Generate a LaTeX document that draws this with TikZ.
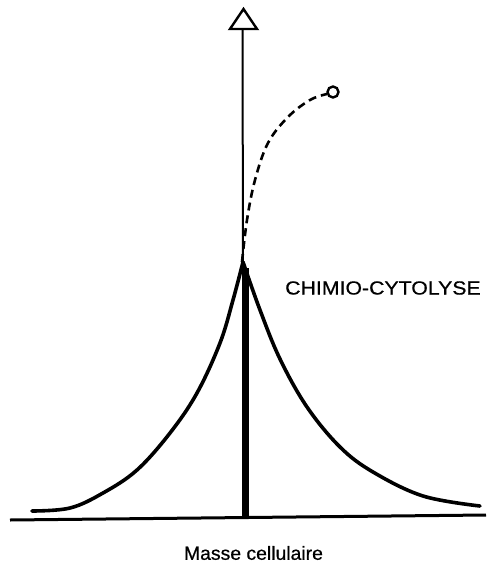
\documentclass[tikz,border=0pt]{standalone}
\usepackage{fontspec}
\usepackage{graphicx}
\setmainfont{Liberation Sans}
\newfontfamily\lblfont[FakeBold=0.6]{Liberation Sans}
\begin{document}
\begin{tikzpicture}[x=1pt,y=-1pt,
  curve/.style={line width=3.6pt,line cap=round,line join=round},
  thin/.style={line width=2pt},
  dashcurve/.style={line width=2.6pt,dash pattern=on 8pt off 5pt},
  lbl/.style={inner sep=0pt,font=\lblfont\fontsize{19}{22}\selectfont}]
\useasboundingbox (0,0) rectangle (491,563);
% key points
\coordinate (peak) at (243,262);
\coordinate (axL) at (10,520);
\coordinate (axR) at (486,515);
\coordinate (barTop) at (245.5,268);
\coordinate (barBot) at (245.5,518);
\coordinate (triBase) at (242.5,29);
\coordinate (triL) at (230,29);
\coordinate (triR) at (257,29);
\coordinate (triA) at (243.5,9);
% axis
\draw[line width=3pt] (axL) -- (axR);
% vertical axis with open triangle
\draw[thin] (peak) -- (triBase);
\draw[line width=2.4pt,line join=miter] (triL) -- (triR) -- (triA) -- cycle;
% bar
\draw[line width=7.5pt] (barBot) -- (barTop);
% left and right curves
\draw[curve] plot[smooth,tension=0.6] coordinates {(32,511) (70,508) (103,493) (137,470) (170,433) (197,393) (220,343) (233,300) (243,262)};
\draw[curve] plot[smooth,tension=0.6] coordinates {(243,262) (260,310) (280,359) (307,407) (340,447) (373,472) (423,496) (480,506)};
% dashed path to circle
\node[circle,draw,line width=2.4pt,minimum size=11pt,inner sep=0pt] (circ) at (333,92) {};
\draw[dashcurve] plot[smooth,tension=0.6] coordinates {(242,262) (247,220) (255,180) (268,143) (288,117) (310,100) (327,94)};
% labels
\node[lbl,anchor=west] (chimio) at (285,288) {\scalebox{1.12}[1]{CHIMIO-CYTOLYSE}};
\node[lbl] (masse) at (253.5,553) {\scalebox{1.02}[1]{Masse cellulaire}};
\end{tikzpicture}
\end{document}
